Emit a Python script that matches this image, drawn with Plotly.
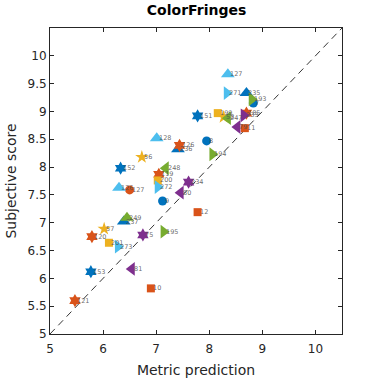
import plotly.graph_objects as go

# ---- data ----
blue_hex_x = [7.78, 6.33, 5.77]
blue_hex_y = [8.92, 7.98, 6.12]
blue_hex_lbl = ["151", "152", "153"]

blue_tri_x = [8.70, 7.41, 6.39]
blue_tri_y = [9.33, 8.32, 7.02]
blue_tri_lbl = ["235", "236", "237"]

blue_dot_x = [8.83, 7.95, 7.12]
blue_dot_y = [9.15, 8.47, 7.39]
blue_dot_lbl = ["7", "8", "9"]

orange_hex_x = [7.05, 5.79, 5.47, 7.44, 8.70]
orange_hex_y = [7.87, 6.75, 5.60, 8.39, 8.97]
orange_hex_lbl = ["119", "120", "121", "126", "185"]

orange_sq_x = [6.90, 8.67, 7.78]
orange_sq_y = [5.82, 8.70, 7.19]
orange_sq_lbl = ["10", "11", "12"]

orange_dot_x = [6.50]
orange_dot_y = [7.59]
orange_dot_lbl = ["127"]

yellow_star_x = [6.73, 6.02, 8.27]
yellow_star_y = [8.18, 6.89, 8.90]
yellow_star_lbl = ["56", "57", "58"]

yellow_sq_x = [8.16, 7.03, 6.11]
yellow_sq_y = [8.97, 7.76, 6.64]
yellow_sq_lbl = ["199", "200", "201"]

purple_hex_x = [7.61, 6.75]
purple_hex_y = [7.73, 6.78]
purple_hex_lbl = ["234", "75"]

purple_tl_x = [8.53, 7.46, 6.54]
purple_tl_y = [8.72, 7.54, 6.17]
purple_tl_lbl = ["79", "80", "81"]

purple_tr_x = [8.65]
purple_tr_y = [8.93]
purple_tr_lbl = ["233"]

green_tr_x = [8.80, 8.06, 7.14]
green_tr_y = [9.22, 8.23, 6.84]
green_tr_lbl = ["193", "194", "195"]

green_tl_x = [8.35, 7.18]
green_tl_y = [8.88, 7.98]
green_tl_lbl = ["247", "248"]

green_tu_x = [6.45]
green_tu_y = [7.09]
green_tu_lbl = ["249"]

lblue_tu_x = [8.35, 7.01, 6.30]
lblue_tu_y = [9.67, 8.52, 7.63]
lblue_tu_lbl = ["127", "128", "126"]

lblue_tr_x = [8.33, 7.03, 6.28]
lblue_tr_y = [9.33, 7.64, 6.57]
lblue_tr_lbl = ["271", "272", "273"]

diag = [5, 10.5]

BLUE = "#0072BD"
ORANGE = "#D95319"
YELLOW = "#EDB120"
PURPLE = "#7E2F8E"
GREEN = "#77AC30"
LBLUE = "#4DBEEE"

series = [
    (blue_hex_x, blue_hex_y, blue_hex_lbl, BLUE, "hexagram", 10),
    (blue_tri_x, blue_tri_y, blue_tri_lbl, BLUE, "triangle-up", 12),
    (blue_dot_x, blue_dot_y, blue_dot_lbl, BLUE, "circle", 9),
    (orange_hex_x, orange_hex_y, orange_hex_lbl, ORANGE, "hexagram", 10),
    (orange_sq_x, orange_sq_y, orange_sq_lbl, ORANGE, "square", 8),
    (orange_dot_x, orange_dot_y, orange_dot_lbl, ORANGE, "circle", 9),
    (yellow_star_x, yellow_star_y, yellow_star_lbl, YELLOW, "star", 10),
    (yellow_sq_x, yellow_sq_y, yellow_sq_lbl, YELLOW, "square", 8),
    (purple_hex_x, purple_hex_y, purple_hex_lbl, PURPLE, "hexagram", 10),
    (purple_tl_x, purple_tl_y, purple_tl_lbl, PURPLE, "triangle-left", 12),
    (purple_tr_x, purple_tr_y, purple_tr_lbl, PURPLE, "triangle-right", 12),
    (green_tr_x, green_tr_y, green_tr_lbl, GREEN, "triangle-right", 12),
    (green_tl_x, green_tl_y, green_tl_lbl, GREEN, "triangle-left", 12),
    (green_tu_x, green_tu_y, green_tu_lbl, GREEN, "triangle-up", 12),
    (lblue_tu_x, lblue_tu_y, lblue_tu_lbl, LBLUE, "triangle-up", 12),
    (lblue_tr_x, lblue_tr_y, lblue_tr_lbl, LBLUE, "triangle-right", 12),
]

fig = go.Figure()
fig.add_trace(go.Scatter(x=diag, y=diag, mode="lines",
                         line=dict(color="black", width=0.8, dash="7px,5px"),
                         hoverinfo="skip", showlegend=False))

for xs, ys, lbls, col, sym, sz in series:
    fig.add_trace(go.Scatter(x=xs, y=ys, mode="markers", showlegend=False,
                             marker=dict(color=col, symbol=sym, size=sz,
                                         line=dict(width=0))))

annos = []
for xs, ys, lbls, col, sym, sz in series:
    for x, y, t in zip(xs, ys, lbls):
        annos.append(dict(x=x, y=y, text=t, showarrow=False, xanchor="left",
                          yanchor="middle", xshift=0,
                          font=dict(size=6.5, color="rgba(80,80,80,0.85)",
                                    family="DejaVu Sans")))

axis_common = dict(showgrid=False, zeroline=False, ticks="inside", ticklen=4,
                   tickcolor="#262626", linecolor="#262626", linewidth=1,
                   mirror="ticks", showline=True, automargin=False,
                   tickfont=dict(size=12, color="#262626", family="DejaVu Sans"))

fig.update_layout(
    width=378, height=378,
    margin=dict(l=50, r=36, t=28, b=44),
    paper_bgcolor="white", plot_bgcolor="white",
    title=dict(text="<b>ColorFringes</b>", x=0.52, xanchor="center", y=0.985,
               yanchor="top", font=dict(size=14, color="black", family="DejaVu Sans")),
    xaxis=dict(range=[5, 10.5], tickvals=[5, 6, 7, 8, 9, 10], ticklabelstandoff=4,
               title=dict(text="Metric prediction", standoff=10,
                          font=dict(size=14, color="#262626", family="DejaVu Sans")),
               **axis_common),
    yaxis=dict(range=[5, 10.5], tickvals=[5, 5.5, 6, 6.5, 7, 7.5, 8, 8.5, 9, 9.5, 10],
               ticktext=["5", "5.5", "6", "6.5", "7", "7.5", "8", "8.5", "9", "9.5", "10"],
               title=dict(text="Subjective score", standoff=7,
                          font=dict(size=14, color="#262626", family="DejaVu Sans")),
               **axis_common),
    annotations=annos,
)

fig.write_html("out.html", config={"displayModeBar": False},
               post_script="document.body.style.margin='0';")
